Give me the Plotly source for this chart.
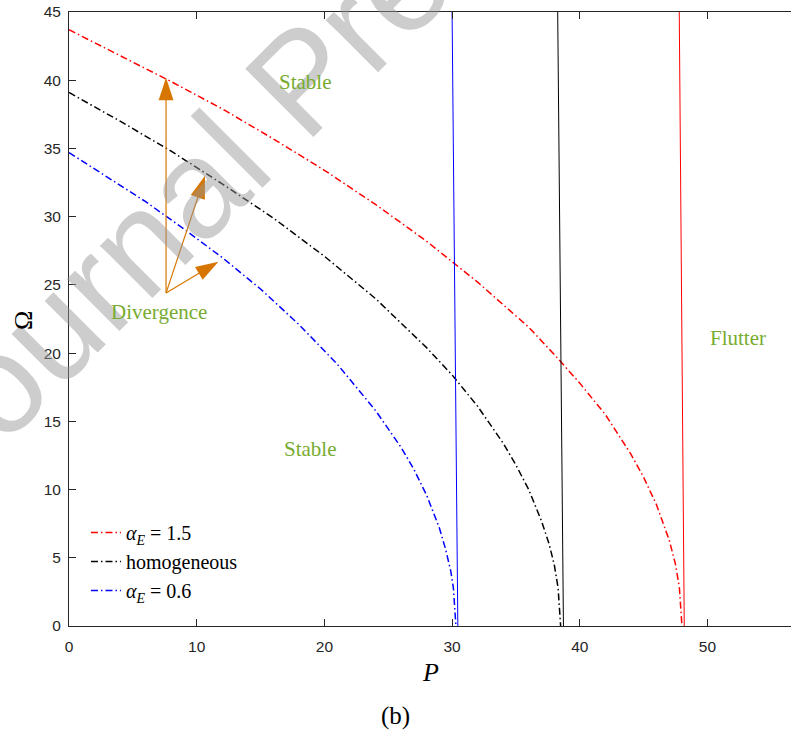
import plotly.graph_objects as go

# ---- data ----
# dash-dot critical curves  (P, Omega)
P_hi = [0, 4, 8, 12, 16, 20, 24, 28, 32, 36, 38, 40, 42, 44, 45, 46, 47, 47.5, 47.8, 48.0]
W_hi = [43.7, 41.8, 39.9, 37.9, 35.7, 33.4, 30.9, 28.2, 25.2, 21.9, 19.9, 17.8, 15.5, 12.6, 10.9, 8.9, 6.3, 4.5, 2.8, 0.0]

P_hom = [0, 4, 8, 12, 16, 20, 24, 28, 30, 32, 34, 35, 36, 37, 37.6, 38, 38.3, 38.5]
W_hom = [39.1, 37.0, 34.8, 32.4, 29.9, 27.1, 24.0, 20.4, 18.4, 16.1, 13.4, 11.8, 10.0, 7.7, 6.0, 4.5, 2.8, 0.0]

P_lo = [0, 3, 6, 9, 12, 15, 18, 21, 24, 26, 27, 28, 29, 29.5, 29.9, 30.1, 30.3]
W_lo = [34.7, 32.9, 31.1, 29.1, 27.0, 24.7, 22.1, 19.2, 15.8, 13.1, 11.5, 9.6, 7.2, 5.6, 4.0, 2.8, 0.0]

# nearly vertical solid (flutter) boundaries
W_vert = [0, 45]
P_vert_lo = [30.45, 30.0]
P_vert_hom = [38.72, 38.27]
P_vert_hi = [48.18, 47.79]

# arrows (tail -> tip)
arrow_tail = (7.6, 24.4)
arrow_tips = [(7.6, 40.2), (10.65, 33.0), (11.7, 26.7)]

# region labels
labels = [("Stable", 18.5, 39.9), ("Divergence", 7.05, 23.0),
          ("Stable", 18.9, 13.0), ("Flutter", 52.4, 21.1)]

legend_names = ["<i>α</i><sub><i>E</i></sub> = 1.5", "homogeneous", "<i>α</i><sub><i>E</i></sub> = 0.6"]
x_ticks = [0, 10, 20, 30, 40, 50]
y_ticks = [0, 5, 10, 15, 20, 25, 30, 35, 40, 45]

DASHDOT = "7px,3px,1.5px,3px"
ORANGE = "rgb(214,118,0)"
GREEN = "#77AC30"

fig = go.Figure()

for P, W, col, name in [(P_hi, W_hi, "red", legend_names[0]),
                        (P_hom, W_hom, "black", legend_names[1]),
                        (P_lo, W_lo, "blue", legend_names[2])]:
    fig.add_trace(go.Scatter(x=P, y=W, mode="lines", name=name,
                             line=dict(color=col, width=1.5, dash=DASHDOT)))

for P, col in [(P_vert_lo, "blue"), (P_vert_hom, "black"), (P_vert_hi, "red")]:
    fig.add_trace(go.Scatter(x=P, y=W_vert, mode="lines", showlegend=False,
                             line=dict(color=col, width=1)))

for tip in arrow_tips:
    fig.add_trace(go.Scatter(x=[arrow_tail[0], tip[0]], y=[arrow_tail[1], tip[1]],
                             mode="lines+markers", showlegend=False,
                             line=dict(color=ORANGE, width=1.2),
                             marker=dict(symbol="arrow", size=[0, 24], color=ORANGE,
                                         opacity=1, angleref="previous", line=dict(width=0))))

annotations = []
# watermark
annotations.append(dict(text="Journal Pre-proof", x=18.17, y=40.0, xref="x", yref="y",
                        showarrow=False, textangle=-45, xanchor="center", yanchor="middle",
                        font=dict(family="Liberation Sans, Arial", size=140,
                                  color="rgba(150,150,150,0.48)")))
for t, x, y in labels:
    annotations.append(dict(text=t, x=x, y=y, xref="x", yref="y", showarrow=False,
                            font=dict(family="Liberation Serif, serif", size=21, color=GREEN)))
# axis titles and caption
annotations.append(dict(text="Ω", x=-0.064, y=0.498, xref="paper", yref="paper",
                        showarrow=False, textangle=-90, xanchor="center", yanchor="middle",
                        font=dict(family="Liberation Serif, serif", size=26, color="#000")))
annotations.append(dict(text="<i>P</i>", x=0.5, y=-0.075, xref="paper", yref="paper",
                        showarrow=False, xanchor="center", yanchor="middle",
                        font=dict(family="Liberation Serif, serif", size=26, color="#000")))
annotations.append(dict(text="(b)", x=(395 - 69) / 722, y=-0.1466, xref="paper", yref="paper",
                        showarrow=False, xanchor="center", yanchor="middle",
                        font=dict(family="Liberation Serif, serif", size=25, color="#000")))

axis_common = dict(showgrid=False, zeroline=False, showline=True, linecolor="#262626",
                   linewidth=1, ticks="inside", ticklen=7, tickcolor="#262626", tickwidth=1,
                   tickfont=dict(family="Liberation Sans, Arial", size=15.5, color="#262626"))

fig.update_layout(
    width=791, height=740,
    margin=dict(l=69, r=0, t=12, b=114),
    paper_bgcolor="white", plot_bgcolor="white",
    xaxis=dict(range=[0, 56.54], tickvals=x_ticks, mirror="ticks", ticklabelstandoff=6,
               **axis_common),
    yaxis=dict(range=[0, 45], tickvals=y_ticks, mirror=False, ticklabelstandoff=4,
               **axis_common),
    legend=dict(x=0.0235, y=0.184, xanchor="left", yanchor="top",
                bgcolor="rgba(255,255,255,0)", borderwidth=0,
                font=dict(family="Liberation Serif, serif", size=20, color="#000")),
    annotations=annotations,
)

fig.write_html("out.html")
